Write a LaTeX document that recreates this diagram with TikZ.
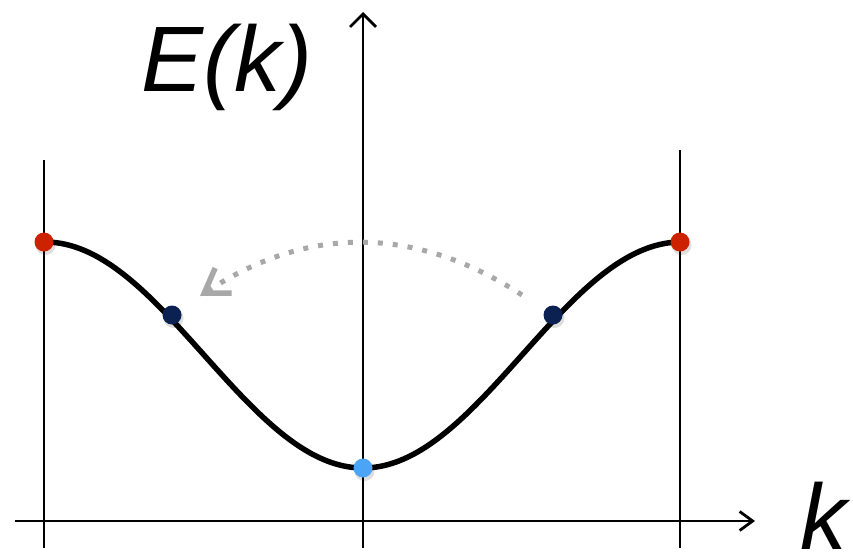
\documentclass[tikz,border=0pt]{standalone}
\usepackage{fontspec}
\setmainfont{Liberation Sans}
\usetikzlibrary{arrows.meta}
\definecolor{redpt}{HTML}{CC2200}
\definecolor{navypt}{HTML}{0B2152}
\definecolor{bluept}{HTML}{4CA4F6}
\definecolor{dotgray}{HTML}{A8A8A8}
\tikzset{
  axisline/.style={line width=2.8pt, black},
  yarrow/.style={axisline, -{Straight Barb[length=13pt, width=26pt, line width=2.8pt]}},
  xarrow/.style={axisline, -{Straight Barb[length=13pt, width=19pt, line width=2.8pt]}},
  bandcurve/.style={line width=5.5pt, black},
  ptdot/.style={circle, inner sep=0pt, minimum size=19pt},
  ptshadow/.style={circle, fill=black, opacity=0.13, inner sep=0pt, minimum size=20pt},
  hoparrow/.style={line width=5pt, dotgray, dash pattern=on 5pt off 10pt,
    -{Straight Barb[length=23pt, width=30pt, line width=5.5pt]}},
  biglabel/.style={font=\fontsize{93}{110}\selectfont\itshape, inner sep=0pt}
}
\begin{document}
\begin{tikzpicture}[x=1pt, y=-1pt]
\useasboundingbox (0,0) rectangle (853,551);
% axes
\coordinate (xl) at (15,521);
\coordinate (xr) at (755,521);
\coordinate (yb) at (363,548);
\coordinate (yt) at (363,12);
\coordinate (lb) at (44,548);
\coordinate (lt) at (44,160);
\coordinate (rb) at (680,548);
\coordinate (rt) at (680,150);
\draw[axisline] (lb) -- (lt);
\draw[axisline] (rb) -- (rt);
\draw[xarrow] (xl) -- (xr);
\draw[yarrow] (yb) -- (yt);
% band curve
\draw[bandcurve, line join=round] plot[domain=44:680, samples=160, smooth] (\x, {355+113*cos((\x-363)/318*180)});
% hopping arrow
\coordinate (hs) at (522,295);
\coordinate (he) at (200,296);
\draw[hoparrow] (hs) .. controls (414.7,225) and (307.3,225.3) .. (he);
% shadows
\foreach \a/\b in {44/242,680/242,172/315,553/315,363/468}
  \node[ptshadow] at (\a+1.5,\b+3) {};
% points
\node[ptdot, fill=redpt] (p1) at (44,242) {};
\node[ptdot, fill=redpt] (p2) at (680,242) {};
\node[ptdot, fill=navypt] (p3) at (172,315) {};
\node[ptdot, fill=navypt] (p4) at (553,315) {};
\node[ptdot, fill=bluept] (p5) at (363,468) {};
% labels
\node[biglabel, anchor=base] (ek) at (227,91) {E(k)};
\node[biglabel, anchor=base west] (kl) at (800,549) {k};
\end{tikzpicture}
\end{document}
